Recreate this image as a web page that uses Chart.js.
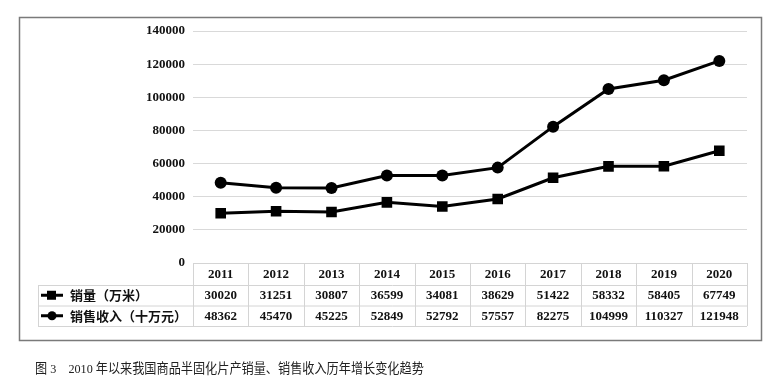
<!DOCTYPE html>
<html>
<head>
<meta charset="utf-8">
<script src="https://cdn.jsdelivr.net/npm/chart.js@4"></script>
<style>
  html, body { margin: 0; padding: 0; background: #fff; }
  #wrap { position: relative; width: 771px; height: 385px; }
  #caption {
    position: absolute; left: 35px; top: 357px;
    font-family: "Liberation Serif", "Noto Sans CJK SC", serif;
    font-size: 13.5px; color: #222; white-space: nowrap;
    transform-origin: left center; transform: scaleX(0.9);
  }
</style>
</head>
<body>
<div id="wrap">
  <canvas id="myChart" width="771" height="385"></canvas>
  <div id="caption">图 3&nbsp;&nbsp;&nbsp;&nbsp;2010 年以来我国商品半固化片产销量、销售收入历年增长变化趋势</div>
</div>
<script>
const years = ["2011", "2012", "2013", "2014", "2015", "2016", "2017", "2018", "2019", "2020"];
const salesVolume = [30020, 31251, 30807, 36599, 34081, 38629, 51422, 58332, 58405, 67749];
const salesRevenue = [48362, 45470, 45225, 52849, 52792, 57557, 82275, 104999, 110327, 121948];
const seriesNames = ["销量（万米）", "销售收入（十万元）"];
const yMax = 140000;
const yStep = 20000;

const numFont = 'bold 13px "Liberation Serif", serif';
const nameFont = 'bold 13px "Noto Sans CJK SC", sans-serif';

// border, data table and its legend keys
const tablePlugin = {
  id: "dataTable",
  afterDraw(chart) {
    const ctx = chart.ctx;
    const x = chart.scales.x;
    const area = chart.chartArea;
    const colW = x.getPixelForValue(1) - x.getPixelForValue(0);
    const left = area.left, right = area.right;
    const tableLeft = 38;
    const rowH = 20.5;
    const top = area.bottom;
    const headBottom = top + 22;
    const rows = [headBottom, headBottom + rowH, headBottom + 2 * rowH];

    ctx.save();
    // outer frame
    ctx.strokeStyle = "#7a7a7a";
    ctx.lineWidth = 1.5;
    ctx.strokeRect(19.5, 17.5, 742, 323);

    // table grid
    ctx.strokeStyle = "#d4d4d4";
    ctx.lineWidth = 1;
    ctx.beginPath();
    ctx.moveTo(left, top + 0.5); ctx.lineTo(right, top + 0.5);
    rows.forEach(r => { ctx.moveTo(tableLeft, r + 0.5); ctx.lineTo(right, r + 0.5); });
    ctx.moveTo(tableLeft + 0.5, headBottom); ctx.lineTo(tableLeft + 0.5, rows[2]);
    for (let i = 0; i <= years.length; i++) {
      const cx = Math.round(left + i * colW) + 0.5;
      ctx.moveTo(cx, top); ctx.lineTo(cx, rows[2]);
    }
    ctx.stroke();

    // header years
    ctx.fillStyle = "#111";
    ctx.font = numFont;
    ctx.textAlign = "center";
    ctx.textBaseline = "middle";
    years.forEach((y, i) => ctx.fillText(y, x.getPixelForValue(i), top + 12));

    const series = [salesVolume, salesRevenue];
    const styles = ["rect", "circle"];
    series.forEach((vals, r) => {
      const cy = rows[r] + rowH / 2;
      ctx.font = numFont;
      ctx.textAlign = "center";
      vals.forEach((v, i) => ctx.fillText(String(v), x.getPixelForValue(i), cy + 0.5));
      // legend key
      ctx.strokeStyle = "#000";
      ctx.lineWidth = 3;
      ctx.beginPath();
      ctx.moveTo(41, cy); ctx.lineTo(63, cy);
      ctx.stroke();
      ctx.fillStyle = "#000";
      if (styles[r] === "rect") {
        ctx.fillRect(47, cy - 4.5, 9, 9);
      } else {
        ctx.beginPath(); ctx.arc(52, cy, 4.5, 0, Math.PI * 2); ctx.fill();
      }
      ctx.fillStyle = "#111";
      ctx.font = nameFont;
      ctx.textAlign = "left";
      ctx.fillText(seriesNames[r], 70, cy);
    });
    ctx.restore();
  }
};

new Chart("myChart", {
  type: "line",
  data: {
    labels: years,
    datasets: [
      {
        label: seriesNames[0],
        data: salesVolume,
        borderColor: "#000",
        backgroundColor: "#000",
        borderWidth: 3,
        pointStyle: "rect",
        pointRadius: 7.5,
        pointBorderWidth: 0,
        tension: 0,
        fill: false,
      },
      {
        label: seriesNames[1],
        data: salesRevenue,
        borderColor: "#000",
        backgroundColor: "#000",
        borderWidth: 3,
        pointStyle: "circle",
        pointRadius: 6,
        pointBorderWidth: 0,
        tension: 0,
        fill: false,
      },
    ],
  },
  options: {
    responsive: false,
    animation: false,
    layout: { padding: { top: 31, right: 24, bottom: 122, left: 0 } },
    plugins: { legend: { display: false }, tooltip: { enabled: false } },
    scales: {
      x: { display: false, offset: true },
      y: {
        min: 0,
        max: yMax,
        afterFit(scale) { scale.width = 193; },
        border: { display: false },
        grid: { color: "#d9d9d9", drawTicks: false },
        ticks: {
          stepSize: yStep,
          padding: 8,
          color: "#111",
          font: { family: '"Liberation Serif", serif', size: 13, weight: "bold" },
          callback: (v) => String(v),
        },
      },
    },
  },
  plugins: [tablePlugin],
});
</script>
</body>
</html>
